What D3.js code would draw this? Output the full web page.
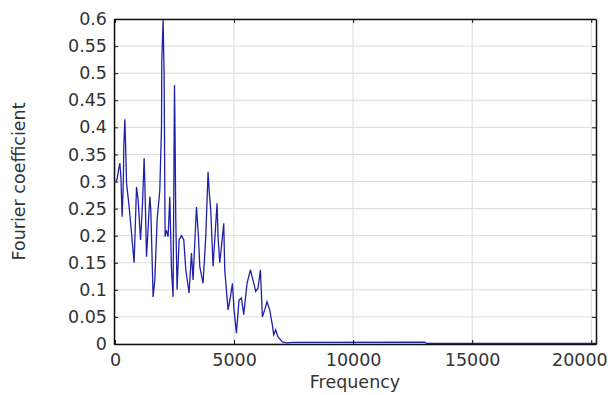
<!DOCTYPE html>
<html>
<head>
<meta charset="utf-8">
<script src="https://cdn.jsdelivr.net/npm/d3@7"></script>
<style>
  body { margin: 0; background: #fff; }
  text { font-family: "DejaVu Sans", sans-serif; fill: #333; }
</style>
</head>
<body>
<div id="chart"></div>
<script>
// spectrum
var freq = [50, 92, 164, 206, 248, 302, 352, 373, 415, 445, 487, 596, 696, 805, 906, 973,
  1074, 1158, 1225, 1254, 1326, 1464, 1506, 1602, 1674, 1770, 1883, 1955, 1967, 2022,
  2064, 2106, 2156, 2232, 2303, 2374, 2441, 2500, 2525, 2555, 2609, 2693, 2794, 2890,
  2974, 3113, 3213, 3280, 3423, 3507, 3562, 3700, 3813, 3910, 3960, 4023, 4120, 4287,
  4329, 4401, 4472, 4568, 4610, 4749, 4849, 4933, 5001, 5101, 5210, 5311, 5407, 5546,
  5688, 5797, 5911, 6007, 6108, 6192, 6288, 6385, 6498, 6611, 6666, 6750, 6846, 7031,
  7199, 7476, 13000, 13100, 20200];
var coef = [0.30, 0.305, 0.325, 0.334, 0.31, 0.235, 0.30, 0.367, 0.415, 0.37, 0.297, 0.253,
  0.205, 0.15, 0.29, 0.266, 0.192, 0.26, 0.343, 0.30, 0.161, 0.272, 0.247, 0.087, 0.118,
  0.229, 0.284, 0.40, 0.524, 0.598, 0.50, 0.198, 0.21, 0.198, 0.272, 0.137, 0.087, 0.478,
  0.383, 0.229, 0.10, 0.192, 0.200, 0.192, 0.137, 0.094, 0.168, 0.118, 0.253, 0.198, 0.143,
  0.112, 0.198, 0.318, 0.28, 0.247, 0.143, 0.26, 0.198, 0.15, 0.18, 0.223, 0.137, 0.063,
  0.087, 0.112, 0.063, 0.02, 0.081, 0.085, 0.054, 0.112, 0.137, 0.118, 0.097, 0.103, 0.137,
  0.05, 0.063, 0.078, 0.063, 0.035, 0.017, 0.026, 0.013, 0.004, 0.002, 0.003, 0.0035, 0.001,
  0.001];

var xTicks = [0, 5000, 10000, 15000, 20000];
var yTicks = [0, 0.05, 0.1, 0.15, 0.2, 0.25, 0.3, 0.35, 0.4, 0.45, 0.5, 0.55, 0.6];

var svgWidth = 610, svgHeight = 395;
var margin = { top: 19, right: 14, bottom: 51, left: 114 };
var chartWidth = svgWidth - margin.left - margin.right;
var chartHeight = svgHeight - margin.top - margin.bottom;

var svg = d3.select("#chart").append("svg")
    .attr("width", svgWidth)
    .attr("height", svgHeight);

var chartGroup = svg.append("g")
    .attr("transform", `translate(${margin.left}, ${margin.top})`);

var x = d3.scaleLinear().domain([-40, 20200]).range([0, chartWidth]);
var y = d3.scaleLinear().domain([0, 0.6]).range([chartHeight, 0]);

// grid
chartGroup.append("g")
    .selectAll("line")
    .data(xTicks)
    .enter()
    .append("line")
    .attr("x1", d => x(d)).attr("x2", d => x(d))
    .attr("y1", 0).attr("y2", chartHeight)
    .attr("stroke", "#dcdcdc");

chartGroup.append("g")
    .selectAll("line")
    .data(yTicks)
    .enter()
    .append("line")
    .attr("x1", 0).attr("x2", chartWidth)
    .attr("y1", d => y(d)).attr("y2", d => y(d))
    .attr("stroke", "#dcdcdc");

// curve
var line = d3.line()
    .x((d, i) => x(freq[i]))
    .y(d => y(d));

chartGroup.append("path")
    .datum(coef)
    .attr("d", line)
    .attr("fill", "none")
    .attr("stroke", "#2020a8")
    .attr("stroke-width", 1.3);

// axes, ticks inward on all four sides
var bottomAxis = d3.axisBottom(x).tickValues(xTicks).tickSizeInner(-4).tickSizeOuter(0).tickPadding(10)
    .tickFormat(d3.format("d"));
var topAxis = d3.axisTop(x).tickValues(xTicks).tickSizeInner(-4).tickSizeOuter(0).tickFormat("");
var leftAxis = d3.axisLeft(y).tickValues(yTicks).tickSizeInner(-4).tickSizeOuter(0).tickPadding(7)
    .tickFormat(d => String(+d.toFixed(2)));
var rightAxis = d3.axisRight(y).tickValues(yTicks).tickSizeInner(-4).tickSizeOuter(0).tickFormat("");

var xAxis = chartGroup.append("g")
    .attr("transform", `translate(0, ${chartHeight})`)
    .call(bottomAxis);
chartGroup.append("g").call(topAxis);
var yAxis = chartGroup.append("g").call(leftAxis);
chartGroup.append("g").attr("transform", `translate(${chartWidth}, 0)`).call(rightAxis);

chartGroup.selectAll(".domain").attr("stroke", "#111").attr("stroke-width", 1.5);
chartGroup.selectAll(".tick line").attr("stroke", "#111");

xAxis.selectAll("text")
    .style("font-size", "17.5px")
    .attr("fill", "#3a3a3a");
// last label pulled in so it stays inside the picture
xAxis.selectAll("text").filter(d => d === 20000)
    .attr("text-anchor", "end")
    .attr("dx", "16px");

yAxis.selectAll("text")
    .style("font-size", "17.5px")
    .attr("fill", "#3a3a3a");

// axis titles
svg.append("text")
    .attr("x", margin.left + chartWidth / 2)
    .attr("y", 388)
    .attr("text-anchor", "middle")
    .style("font-size", "17.5px")
    .attr("fill", "#3a3a3a")
    .text("Frequency");

svg.append("text")
    .attr("transform", `translate(25, ${margin.top + chartHeight / 2}) rotate(-90)`)
    .attr("text-anchor", "middle")
    .style("font-size", "17.5px")
    .attr("fill", "#3a3a3a")
    .text("Fourier coefficient");
</script>
</body>
</html>
